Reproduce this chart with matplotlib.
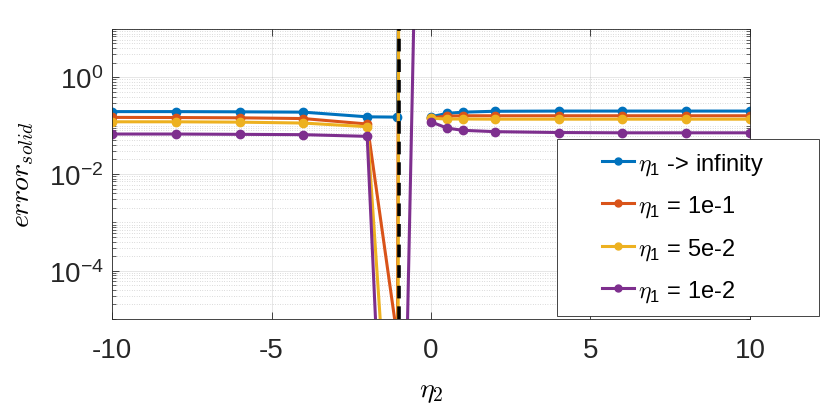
import numpy as np
import matplotlib
matplotlib.use("Agg")
import matplotlib.pyplot as plt
from matplotlib.lines import Line2D
from matplotlib.legend_handler import HandlerLine2D
from matplotlib.ticker import LogLocator, FixedLocator, NullFormatter

plt.rcParams["font.family"] = ["Liberation Sans", "DejaVu Sans"]
plt.rcParams["mathtext.fontset"] = "cm"
plt.rcParams["axes.unicode_minus"] = False

# eta_2 sample points (shared by all curves), NaN = no value / break
eta2 = [-10, -8, -6, -4, -2, -1.05, -1, -0.5, -0.25, 0, 0.5, 1, 2, 4, 6, 8, 10]

err_inf = [0.195, 0.195, 0.193, 0.190, 0.152, 0.150, 1e3, np.nan, np.nan,
           0.152, 0.179, 0.190, 0.198, 0.200, 0.200, 0.200, 0.200]
err_1e1 = [0.148, 0.147, 0.145, 0.140, 0.108, 3.8e-6, 1e6, np.nan, np.nan,
           0.145, 0.157, 0.160, 0.160, 0.160, 0.160, 0.160, 0.160]
err_5e2 = [0.120, 0.120, 0.118, 0.113, 0.095, 5e-11, 1e6, np.nan, np.nan,
           0.142, 0.137, 0.137, 0.136, 0.136, 0.136, 0.136, 0.136]
err_1e2 = [0.067, 0.067, 0.066, 0.065, 0.060, 1e-15, 4e-14, 250, np.nan,
           0.120, 0.089, 0.080, 0.075, 0.072, 0.071, 0.071, 0.071]

series = [err_inf, err_1e1, err_5e2, err_1e2]
labels = [r"$\eta_{\mathregular{1}}$ -> infinity",
          r"$\eta_{\mathregular{1}}$ = 1e-1",
          r"$\eta_{\mathregular{1}}$ = 5e-2",
          r"$\eta_{\mathregular{1}}$ = 1e-2"]
colors = ["#0072BD", "#D95319", "#EDB120", "#7E2F8E"]

singular_eta2 = -1

fig = plt.figure(figsize=(8.3, 4.1), dpi=100)
ax = fig.add_axes([0.135, 0.2195, 0.7685, 0.7075])

lines = []
for y, lab, c in zip(series, labels, colors):
    l, = ax.semilogy(eta2, y, "-o", color=c, lw=2.2, ms=6, label=lab)
    lines.append(l)

ax.axvline(singular_eta2, color="k", lw=2.6, ls=(0, (3.5, 2.2)), zorder=5)

ax.set_xlim(-10, 10)
ax.set_ylim(1e-5, 1e1)
ax.set_xticks([-10, -5, 0, 5, 10])
ax.yaxis.set_major_locator(FixedLocator([1e-4, 1e-2, 1e0]))
ax.yaxis.set_minor_locator(LogLocator(base=10, subs=np.arange(1, 10), numticks=20))
ax.yaxis.set_minor_formatter(NullFormatter())

ax.grid(True, which="major", color="#262626", alpha=0.13, lw=0.6)
ax.grid(True, which="minor", axis="y", color="#1a1a1a", alpha=0.3, lw=0.5, ls=(0, (1, 2.5)))
ax.set_axisbelow(True)

ax.tick_params(which="both", direction="in", top=True, right=True,
               colors="#262626", labelcolor="#262626", labelsize=20)
ax.tick_params(which="major", length=5, width=0.6)
ax.tick_params(which="minor", length=3, width=0.5)
ax.tick_params(axis="x", pad=13)
ax.tick_params(axis="y", pad=6)
for s in ax.spines.values():
    s.set_color("#262626")
    s.set_linewidth(0.6)

ax.set_xlabel(r"$\eta_2$", fontsize=20, labelpad=11)
ax.set_ylabel(r"$error_{solid}$", fontsize=20, labelpad=9)

fs = 17
leg = fig.legend(lines, labels, loc="upper left", mode="expand",
                 bbox_to_anchor=(557 / 830, 93 / 410, 262 / 830, 177 / 410),
                 bbox_transform=fig.transFigure, borderaxespad=0,
                 fontsize=fs, numpoints=1, fancybox=False, framealpha=1,
                 borderpad=0.5, labelspacing=0.71,
                 handlelength=2.75, handletextpad=0.17,
                 handler_map={Line2D: HandlerLine2D(xpad=1.42)})
leg.get_frame().set_edgecolor("#262626")
leg.get_frame().set_linewidth(0.6)
for h in leg.legend_handles:
    h.set_markersize(5)
    h.set_linewidth(2.2)

fig.savefig("out.png", dpi=100)
